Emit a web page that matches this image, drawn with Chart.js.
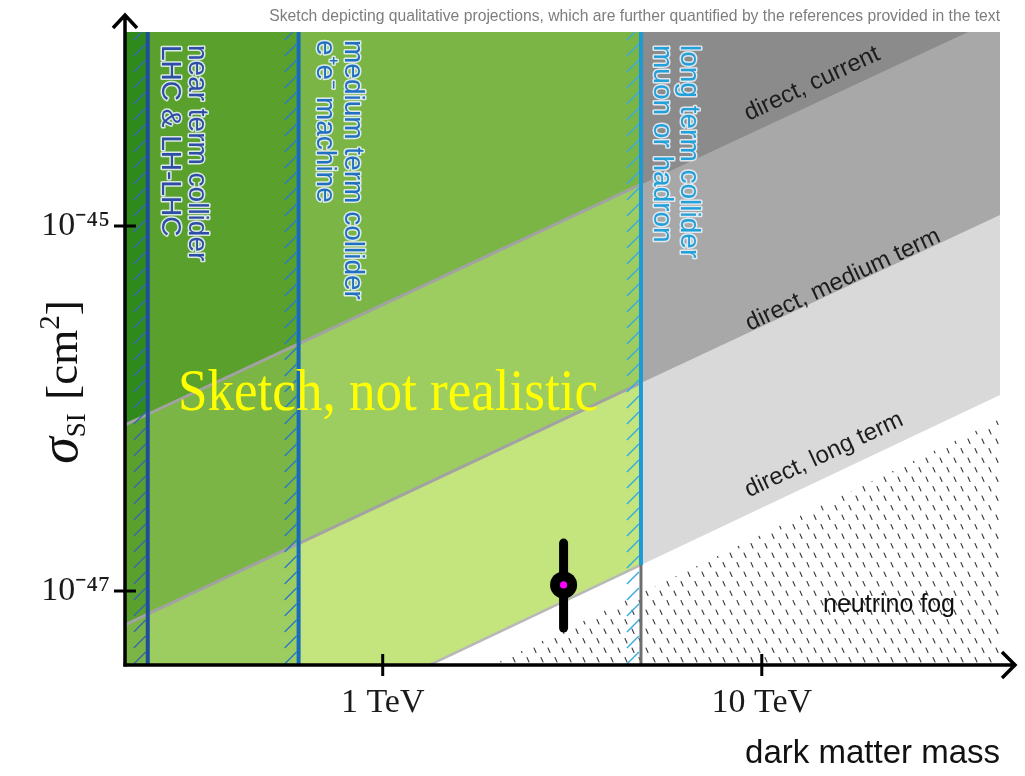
<!DOCTYPE html>
<html>
<head>
<meta charset="utf-8">
<title>Dark matter sketch</title>
<script src="https://cdn.jsdelivr.net/npm/chart.js@4.4.1/dist/chart.umd.min.js"></script>
<style>
  html, body { margin:0; padding:0; background:#ffffff; }
  canvas { display:block; }
</style>
</head>
<body>
<canvas id="chart" width="1025" height="776"></canvas>
<script>
// ---------------- values ----------------
const xMin = 0.209, xMax = 42.5;          // dark matter mass [TeV], axis range
const yMin = 3.93e-48, yMax = 1.156e-44;  // sigma_SI [cm^2], axis range
const xTickValues = [1, 10];
const xTickLabels = ['1 TeV', '10 TeV'];
const yTickValues = [1e-47, 1e-45];
const yTickLabels = ['10\u207B\u2074\u2077', '10\u207B\u2074\u2075'];

const colliderMass = [0.24, 0.6, 4.8];
const colliderLineBottom = [3.93e-48, 3.93e-48, 1.39e-47];
const colliderLabels = [
  ['near term collider', 'LHC & LH-LHC'],
  ['medium term collider', 'e\u207Ae\u207B machine'],
  ['long term collider', 'muon or hadron']
];

// direct detection reach lines, [mass TeV, sigma cm^2]
const directCurrent = [[0.209, 8.12e-47], [0.24, 9.30e-47], [0.6, 2.26e-46], [4.8, 1.69e-45], [35, 1.156e-44]];
const directMedium  = [[0.209, 6.51e-48], [0.24, 7.46e-48], [0.6, 1.82e-47], [4.8, 1.38e-46], [42.5, 1.149e-45]];
const directLong    = [[0.209, 3.93e-48], [0.24, 3.93e-48], [0.6, 3.93e-48], [1.33, 3.93e-48], [4.8, 1.39e-47], [42.5, 1.186e-46]];
const directLabels  = ['direct, current', 'direct, medium term', 'direct, long term'];
const neutrinoFog   = [[1.95, 3.93e-48], [42.5, 8.76e-47], [42.5, 3.93e-48]];

const signalMass  = [3.0];
const signalSigma = [1.08e-47];
const signalLow   = [6.27e-48];
const signalHigh  = [1.83e-47];

// ---------------- styles ----------------
const greenShades = ['#c4e47e', '#9dcd61', '#7ab546', '#5aa02d', '#2d8a1b'];
const grayShades  = ['#d9d9d9', '#a8a8a8', '#8b8b8b'];
const colliderLineColors = ['#1f4e9a', '#176bbd', '#1c9ad6'];
const colliderTextColors = ['#2d4ea6', '#1f6fc2', '#22a0da'];
const hatchColors = ['#3a68b2', '#2a7cc6', '#36abdd'];
const colliderLabelOffsets = [[49, 22], [54, 26], [48, 21]];
const colliderLabelTop = [45, 40, 45];
const directLabelCenters = [[812, 84], [843, 280], [824, 455]];

const canvas = document.getElementById('chart');
const ctx0 = canvas.getContext('2d');

function makeFogPattern() {
  const c = document.createElement('canvas');
  c.width = 14; c.height = 19;
  const g = c.getContext('2d');
  g.strokeStyle = '#3a3a3a';
  g.lineWidth = 1.1;
  g.lineCap = 'round';
  g.beginPath();
  g.moveTo(2, 2); g.lineTo(4, 6.5);
  g.moveTo(9, 11.5); g.lineTo(11, 16);
  g.stroke();
  return ctx0.createPattern(c, 'repeat');
}
const fogPattern = makeFogPattern();

// ---------------- datasets ----------------
const pts = arr => arr.map(([x, y]) => ({x, y}));
function band(line, mFrom, mTo) {
  const p = line.filter(([x]) => x >= mFrom - 1e-9 && x <= mTo + 1e-9).map(([x, y]) => ({x, y}));
  const last = p[p.length - 1];
  if (last.x < mTo) p.push({x: mTo, y: last.y});
  p.push({x: mTo, y: yMax}, {x: mFrom, y: yMax});
  return p;
}
const datasets = [];
let ord = 1000;
function poly(data, color) {
  datasets.push({data, backgroundColor: color, borderColor: 'rgba(0,0,0,0)', borderWidth: 0,
    fill: 'shape', pointRadius: 0, order: ord--});
}
function stroke(data, color, width, order, extra) {
  datasets.push(Object.assign({data, borderColor: color, backgroundColor: color, borderWidth: width,
    fill: false, pointRadius: 0, order}, extra || {}));
}

const bandLines = [directLong, directMedium, directCurrent];
const columnEnd = [colliderMass[2], colliderMass[1], colliderMass[0]];
for (let c = 0; c < 3; c++)
  for (let b = 0; b < 3; b++)
    poly(band(bandLines[b], xMin, columnEnd[c]), greenShades[c + b]);
for (let b = 0; b < 3; b++)
  poly(band(bandLines[b], colliderMass[2], xMax), grayShades[b]);
poly(pts(neutrinoFog), fogPattern);

stroke(pts(directCurrent.slice(0, 4)), '#a2a2a2', 3, 60);
stroke(pts(directMedium.slice(0, 4)), '#a2a2a2', 3, 60);
stroke(pts(directLong.slice(3, 5)), '#b8b8b8', 2.5, 60);
stroke([{x: colliderMass[2], y: yMin}, {x: colliderMass[2], y: directLong[4][1]}], '#6e6e6e', 3, 55);
for (let i = 0; i < 3; i++)
  stroke([{x: colliderMass[i], y: colliderLineBottom[i]}, {x: colliderMass[i], y: yMax}],
    colliderLineColors[i], 4, 50 - i, {hatchColor: hatchColors[i]});

stroke([{x: signalMass[0], y: signalLow[0]}, {x: signalMass[0], y: signalHigh[0]}], '#000000', 9, 10,
  {borderCapStyle: 'round'});
datasets.push({data: [{x: signalMass[0], y: signalSigma[0]}], showLine: false, pointRadius: 13.5,
  pointBackgroundColor: '#000000', pointBorderWidth: 0, order: 5});
datasets.push({data: [{x: signalMass[0], y: signalSigma[0]}], showLine: false, pointRadius: 3.6,
  pointBackgroundColor: '#ff00ff', pointBorderWidth: 0, order: 4});

// ---------------- decoration plugin ----------------
function haloText(ctx, text, x, y, color) {
  ctx.lineJoin = 'round';
  ctx.strokeStyle = 'rgba(232,238,245,0.9)';
  ctx.lineWidth = 3;
  ctx.strokeText(text, x, y);
  ctx.fillStyle = color;
  ctx.fillText(text, x, y);
}

const sketchPlugin = {
  id: 'sketchPlugin',
  beforeDatasetDraw(chart, args) {
    const ds = chart.data.datasets[args.index];
    if (!ds.hatchColor) return;
    const {ctx, chartArea: a, scales: {x}} = chart;
    const px = x.getPixelForValue(ds.data[0].x);
    ctx.save();
    ctx.beginPath();
    ctx.rect(px - 16, a.top, 16, a.bottom - a.top);
    ctx.clip();
    ctx.strokeStyle = ds.hatchColor;
    ctx.lineWidth = 1.4;
    ctx.beginPath();
    for (let y = a.top - 20; y < a.bottom + 20; y += 16) {
      ctx.moveTo(px - 14, y + 12);
      ctx.lineTo(px - 2, y);
    }
    ctx.stroke();
    ctx.restore();
  },
  afterDatasetsDraw(chart) {
    const {ctx, chartArea: a, scales: {x, y}} = chart;
    ctx.save();

    // collider labels (rotated clockwise)
    ctx.font = '28px "Liberation Sans", Arial, sans-serif';
    ctx.textAlign = 'left';
    ctx.textBaseline = 'middle';
    for (let i = 0; i < 3; i++) {
      const px = x.getPixelForValue(colliderMass[i]);
      for (let l = 0; l < 2; l++) {
        ctx.save();
        ctx.translate(px + colliderLabelOffsets[i][l], colliderLabelTop[i]);
        ctx.rotate(Math.PI / 2);
        haloText(ctx, colliderLabels[i][l], 0, 0, colliderTextColors[i]);
        ctx.restore();
      }
    }

    // direct detection labels, rotated along the lines
    const p1x = x.getPixelForValue(directMedium[1][0]), p1y = y.getPixelForValue(directMedium[1][1]);
    const p2x = x.getPixelForValue(directMedium[4][0]), p2y = y.getPixelForValue(directMedium[4][1]);
    const ang = Math.atan2(p1y - p2y, p2x - p1x);
    ctx.font = '24px "Liberation Sans", Arial, sans-serif';
    ctx.textAlign = 'center';
    ctx.fillStyle = '#1c1c1c';
    for (let i = 0; i < 3; i++) {
      ctx.save();
      ctx.translate(directLabelCenters[i][0], directLabelCenters[i][1]);
      ctx.rotate(-ang);
      ctx.fillText(directLabels[i], 0, 0);
      ctx.restore();
    }
    ctx.font = '25px "Liberation Sans", Arial, sans-serif';
    ctx.fillStyle = '#111111';
    ctx.fillText('neutrino fog', 889, 605);

    // yellow sketch note
    ctx.font = '60px "Liberation Serif", "Times New Roman", serif';
    ctx.textAlign = 'left';
    ctx.textBaseline = 'alphabetic';
    const w = ctx.measureText('Sketch, not realistic').width;
    ctx.save();
    ctx.translate(178, 410);
    ctx.scale(420 / w, 1);
    ctx.fillStyle = '#ffff00';
    ctx.fillText('Sketch, not realistic', 0, 0);
    ctx.restore();

    // y axis title: sigma_SI [cm^2]
    const parts = [
      {t: '\u03C3', f: 'italic 54px "Liberation Serif", serif', dy: 0},
      {t: 'SI', f: '27px "Liberation Serif", serif', dy: 8},
      {t: '  ', f: '27px "Liberation Serif", serif', dy: 0},
      {t: '[cm', f: '45px "Liberation Serif", serif', dy: 0},
      {t: '2', f: '29px "Liberation Serif", serif', dy: -18},
      {t: ']', f: '45px "Liberation Serif", serif', dy: 0}
    ];
    let total = 0;
    for (const p of parts) { ctx.font = p.f; p.w = ctx.measureText(p.t).width; total += p.w; }
    ctx.save();
    ctx.translate(77, 382);
    ctx.rotate(-Math.PI / 2);
    ctx.fillStyle = '#111111';
    let cx = -total / 2;
    for (const p of parts) { ctx.font = p.f; ctx.fillText(p.t, cx, p.dy); cx += p.w; }
    ctx.restore();

    // axes with arrows
    ctx.strokeStyle = '#000000';
    ctx.lineWidth = 3.5;
    ctx.lineJoin = 'miter';
    ctx.beginPath();
    ctx.moveTo(a.left, a.bottom + 1.5);
    ctx.lineTo(a.left, 15);
    ctx.moveTo(a.left - 12, 28); ctx.lineTo(a.left, 15); ctx.lineTo(a.left + 12, 28);
    ctx.stroke();
    ctx.beginPath();
    ctx.moveTo(a.left - 1.5, a.bottom);
    ctx.lineTo(1015, a.bottom);
    ctx.moveTo(1002, a.bottom - 13); ctx.lineTo(1015, a.bottom); ctx.lineTo(1002, a.bottom + 13);
    ctx.stroke();
    ctx.lineWidth = 3;
    ctx.beginPath();
    for (const t of x.ticks) {
      const px = x.getPixelForValue(t.value);
      ctx.moveTo(px, a.bottom - 11); ctx.lineTo(px, a.bottom + 11);
    }
    for (const t of y.ticks) {
      const py = y.getPixelForValue(t.value);
      ctx.moveTo(a.left - 11, py); ctx.lineTo(a.left + 11, py);
    }
    ctx.stroke();
    ctx.restore();
  }
};

function tickLabel(values, labels) {
  return (v) => {
    const i = values.findIndex(t => Math.abs(t - v) / t < 1e-6);
    return i >= 0 ? labels[i] : null;
  };
}

new Chart(canvas, {
  type: 'line',
  data: {datasets},
  options: {
    responsive: false,
    animation: false,
    events: [],
    layout: {padding: {left: 0, right: 25, top: 0, bottom: 0}},
    plugins: {
      legend: {display: false},
      tooltip: {enabled: false},
      title: {
        display: true,
        text: 'Sketch depicting qualitative projections, which are further quantified by the references provided in the text',
        align: 'end',
        color: '#7d7d7d',
        font: {family: '"Liberation Sans", Arial, sans-serif', size: 15.7, weight: 'normal'},
        padding: {top: 7, bottom: 6.2}
      }
    },
    scales: {
      x: {
        type: 'logarithmic',
        min: xMin, max: xMax,
        afterBuildTicks: (s) => { s.ticks = xTickValues.map(v => ({value: v})); },
        afterFit: (s) => { s.height = 111; s.paddingLeft = 0; s.paddingRight = 0; },
        grid: {display: false, drawTicks: false},
        border: {display: false},
        ticks: {
          callback: tickLabel(xTickValues, xTickLabels),
          autoSkip: false, maxRotation: 0, minRotation: 0,
          padding: 18, color: '#1a1a1a',
          font: {family: '"Liberation Serif", "Times New Roman", serif', size: 34}
        },
        title: {
          display: true, text: 'dark matter mass', align: 'end', color: '#111111',
          font: {family: '"Liberation Sans", Arial, sans-serif', size: 33},
          padding: {top: 0, bottom: 2}
        }
      },
      y: {
        type: 'logarithmic',
        min: yMin, max: yMax,
        afterBuildTicks: (s) => { s.ticks = yTickValues.map(v => ({value: v})); },
        afterFit: (s) => { s.width = 125; s.paddingTop = 0; s.paddingBottom = 0; },
        grid: {display: false, drawTicks: false},
        border: {display: false},
        ticks: {
          callback: tickLabel(yTickValues, yTickLabels),
          autoSkip: false, padding: 15, color: '#1a1a1a',
          font: {family: '"Liberation Serif", "Times New Roman", serif', size: 34}
        }
      }
    }
  },
  plugins: [sketchPlugin]
});
</script>
</body>
</html>
